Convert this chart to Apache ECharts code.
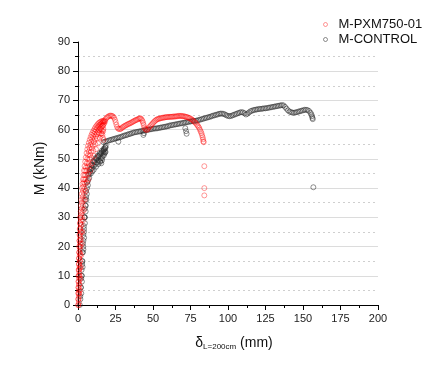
<!DOCTYPE html>
<html>
<head>
<meta charset="utf-8">
<script src="https://cdn.jsdelivr.net/npm/echarts@6/dist/echarts.min.js"></script>
<style>html,body{margin:0;padding:0;background:#fff;}#c{width:438px;height:365px;}</style>
</head>
<body>
<div id="c"></div>
<script>
var seriesNames = ['M-PXM750-01', 'M-CONTROL'];

// M-PXM750-01 : [deflection (mm), moment (kNm)]
var pxmRise = [
  [0.3,0],[0.35,2],[0.4,4],[0.45,6],[0.5,8],[0.55,10],[0.6,12],[0.7,14],[0.8,16],[0.9,18],[1.0,20],
  [1.1,22],[1.2,24],[1.35,26],[1.5,28],[1.65,30],[1.8,32],[2.0,34],[2.2,36],[2.45,38],[2.7,40],
  [3.0,41.5],[3.3,43],[3.6,44.5],[4,46],[4.4,47.5],[4.8,49],[5.2,50.5],[5.7,52],[6.2,53.3],[6.7,54.5],
  [7.2,55.5],[7.8,56.5],[8.4,57.4],[9,58.2],[9.6,58.9],[10.3,59.6],[11,60.2],[11.6,60.8],[12.3,61.3],
  [13,61.8],[13.7,62.2],[14.4,62.5],[15.1,62.7],[15.8,62.9],[16.5,63],[17,63],
  [0.6,1],[0.65,3],[0.7,5],[0.75,7],[0.8,9],[0.9,11],[1,13],[1.1,15],[1.2,17],[1.3,19],[1.4,21],
  [1.5,23],[1.65,25],[1.8,27],[2.0,29],[2.2,31],[2.45,33],[2.7,35],[3.0,37],[3.3,39],[3.6,40.5],
  [3.8,42],[4.1,43],[4.5,44.5],[4.9,46],[5.3,47],[5.8,48.5],[6.2,50],[6.7,51.3],[7.2,52.5],[7.7,53.7],
  [8.3,54.8],[8.9,55.8],[9.5,56.8],[10.1,57.7],[10.8,58.5],[11.4,59.2],[12.1,59.9],[12.8,60.5],
  [13.5,61],[14.2,61.4],[14.9,61.8],[15.6,62.1],[16.3,62.4],[16.9,62.6],[17.5,62.8],
  [0.9,4],[1.0,7],[1.1,10],[1.2,12.5],[1.35,15],[1.5,17.5],[1.7,20],[1.9,22.5],[2.15,25],[2.4,27.5],
  [2.7,30],[3,32],[3.3,34],[3.6,36],[4,38],[4.3,39.7],[4.7,41.5],[5.1,43],[5.5,44.5],[6,46],[6.5,47.3],
  [7,48.6],[7.5,50],[8.1,51.3],[8.7,52.5],[9.3,53.6],[9.9,54.7],[10.6,55.8],[11.3,56.8],[12,57.7],
  [12.7,58.5],[13.4,59.2],[14.1,59.8],[14.8,60.3],[15.5,60.8],[16.2,61.3],[16.9,61.7],[17.5,62.2],[18.1,62.8],
  [1.3,5],[1.5,9],[1.8,13],[2.1,17],[2.5,21],[2.9,25],[3.4,29],[3.9,32.5],[4.5,36],[5.2,39],[6,42],
  [6.9,45],[7.9,47.8],[9,50.4],[10.2,52.8],[11.5,55],[12.8,57],[14.1,58.8],[15.4,60.2],[16.6,61.3],
  [7,43],[8.2,46],[9.4,48.5],[10.7,51],[12,53.3],[13.3,55.3],[14.6,57.2],[15.8,58.8],[16.9,60.2],
  [0.1,0],[0.15,2],[0.2,4],[0.25,6],[0.3,8],[0.35,10],[0.45,12],[0.55,14],[0.65,16],[0.75,18],
  [0.85,20],[0.95,22],[1.05,24],[1.15,26],[1.3,28],[1.45,30],
  [16.3,58.3],[16.6,57.2],[17,56.5],[16.8,59.5],[16,59.6],[15.2,58.6]
];
var pxmPeak = [
  [17.8,63.2],[18.5,63.7],[19.2,64.1],[19.9,64.4],[20.6,64.6],[21.3,64.8],[22,64.8],[22.7,64.7],
  [23.4,64.5],[24,64.1],[24.6,63.4],[25.1,62.6],[25.6,61.7],[26.1,60.9],[26.7,60.4],[27.4,60.2],
  [28.1,60.2],[28.8,60.4],[29.5,60.7],[30.2,61.0],[30.9,61.2],[31.6,61.4],[32.3,61.6],[33,61.8],
  [33.7,62.0],[34.4,62.1],[35.1,62.3],[35.8,62.5],[36.5,62.7],[37.2,62.9],[37.9,63.1],[38.6,63.3],
  [39.3,63.4],[40,63.6],[40.7,63.8],[41.3,63.9],[41.9,63.8],[42.5,63.4],[43,62.9],[43.4,62.3],
  [43.8,61.6],[44.2,60.8],[44.7,60.3],[45.3,60.0],[46,59.9],[46.7,60.3],[47.4,60.8],[48.1,61.2],
  [48.8,61.6],[49.5,62.0],[50.2,62.4],[50.9,62.8],[51.6,63.1],[52.3,63.4],[53,63.6],[53.7,63.7],
  [54.4,63.8],[55.1,63.9],[55.8,64.0],[56.5,64.1],[57.2,64.1],[57.9,64.2],[58.6,64.3],[59.3,64.3],
  [60,64.3],[60.7,64.4],[61.4,64.4],[62.1,64.4],[62.8,64.4],[63.5,64.5],[64.2,64.5],[64.9,64.5],
  [65.6,64.6],[66.3,64.6],[67,64.7],[67.7,64.7],[68.4,64.7],[69.1,64.7],[69.8,64.6],[70.5,64.6],
  [71.2,64.5],[71.9,64.4],[72.6,64.3],[73.3,64.2],[74,64.0],[74.7,63.9],[75.4,63.6],[76.1,63.4],
  [76.8,63.1],[77.5,62.7],[78.2,62.4],[78.9,62.0],[79.6,61.5],[80.2,61.1],[80.8,60.6],[81.3,60.0],
  [81.8,59.4],[82.3,58.8],[82.7,58.1],[83.1,57.4],[83.4,56.7],[83.6,56.0],[83.8,55.7],
  [84.2,47.5],[84.2,40],[84.2,37.5]
];

// M-CONTROL : [deflection (mm), moment (kNm)]
var controlRise = [
  [1.2,0],[1.5,3],[1.8,6],[2.1,9],[2.4,12],[2.7,15],[3,18],[3.3,21],[3.6,24],[3.9,27],[4.2,30],
  [4.5,33],[4.9,36],[5.4,39],[6,42],[6.8,44.5],[7.8,46.5],[9,48],[10.3,49.2],[11.7,50.2],[13.1,51.1],
  [14.5,52],[15.9,52.8],[17.2,53.5],[18.2,54],
  [1.6,2],[2,6],[2.4,10],[2.8,14],[3.2,18],[3.6,22],[4,26],[4.4,30],[4.9,34],[5.4,37],[6,40],
  [6.7,42.5],[7.6,44.8],[8.6,46.5],[9.7,47.8],[10.9,48.9],[12.2,49.9],[13.5,50.8],[14.8,51.6],
  [16.1,52.4],[17.3,53.1],[18.3,53.8],
  [2.5,10],[3,15],[3.5,20],[4,25],[4.6,30],[5.2,34],[5.9,38],[6.6,41],[7.5,43.5],[8.6,45],
  [9.6,45.8],[10.5,46.3],[12,47.3],[13.5,48.2],[14.8,49.2],[16,50.2],[17.2,51.2],[18.3,52.5],[18.5,54.4],
  [8,45.5],[9.2,46.8],[10.5,47.5],[11.5,48.2],[12.8,48.8],[13.8,49.5],[15.2,50.2],[16.4,51],[17.5,51.8],
  [18.2,52.2],[11,49.5],[12.5,50.4],[14,51],[15.5,51.9],[17,52.8],[5.6,36],[5.1,32],[4.6,28],[4.1,23],
  [3.6,19],[3.1,13],[2.6,8],[2.2,4],
  [14.8,49],[15.5,48.5],[16,49.5],[17,52.2],[17.8,53.4]
];
var controlMain = [
  [17,55.7],[18,55.9],[19,56.0],[20,56.2],[21,56.4],[22,56.5],[23,56.7],[24,56.8],[25,57.0],[26,57.1],
  [27,57.3],[28,57.4],[29,57.6],[30,57.8],[31,58.0],[32,58.1],[33,58.3],[34,58.5],[35,58.6],[36,58.8],
  [37,59.0],[38,59.1],[39,59.2],[40,59.3],[41,59.4],[42,59.5],[43,59.6],[44,59.7],[45,59.8],[46,59.9],
  [47,60.0],[48,60.1],[49,60.2],[50,60.3],[51,60.4],[52,60.4],[53,60.5],[54,60.6],[55,60.7],[56,60.8],
  [57,60.9],[58,61.0],[59,61.1],[60,61.2],[61,61.4],[62,61.5],[63,61.6],[64,61.7],[65,61.8],[66,61.9],
  [67,62.0],[68,62.1],[69,62.2],[70,62.3],[71,62.4],[72,62.5],[73,62.6],[74,62.7],[75,62.8],[76,62.9],
  [77,63.0],[78,63.0],[79,63.1],[80,63.2],[81,63.4],[82,63.5],[83,63.7],[84,63.8],[85,64.0],[86,64.1],
  [87,64.3],[88,64.4],[89,64.6],[90,64.8],[91,64.9],[92,65.1],[93,65.2],[94,65.4],[95,65.5],[96,65.5],
  [97,65.4],[98,65.2],[99,64.9],[100,64.7],[101,64.6],[102,64.7],[103,64.9],[104,65.1],[105,65.3],
  [106,65.5],[107,65.7],[108,65.9],[109,66.0],[110,65.9],[111,65.6],[112,65.2],[113,65.5],[114,65.9],
  [115,66.3],[116,66.5],[117,66.7],[118,66.8],[119,66.9],[120,67.0],[121,67.1],[122,67.1],[123,67.2],
  [124,67.3],[125,67.3],[126,67.4],[127,67.5],[128,67.6],[129,67.7],[130,67.8],[131,67.9],[132,68.0],
  [133,68.1],[134,68.2],[135,68.3],[136,68.4],[137,68.3],[138,67.8],[139,67.2],[140,66.6],[141,66.2],
  [142,66.0],[143,65.8],[144,65.8],[145,65.9],[146,66.0],[147,66.2],[148,66.3],[149,66.5],[150,66.6],
  [151,66.8],[152,66.8],[153,66.7],[154,66.4],[155,65.8],[155.6,65.2],[156,64.6],[156.3,64.0],
  [156.5,63.6],[156.9,40.3],
  [26.9,55.9],[43.6,58.2],[44,58.8],[71.5,60.5],[72,59.5],[72.4,58.6]
];

var pxmPoints = pxmRise.concat(pxmPeak);
var controlPoints = controlRise.concat(controlMain);

var FONT = '"Liberation Sans", Arial, sans-serif';
var chart = echarts.init(document.getElementById('c'));
var majorGrid = ['#dcdcdc','#dcdcdc','#dcdcdc','#dcdcdc','#dcdcdc','#dcdcdc','#dcdcdc','#dcdcdc','#dcdcdc','rgba(0,0,0,0)'];
chart.setOption({
  animation: false,
  backgroundColor: '#fff',
  grid: { left: 78, right: 60, top: 42, bottom: 60, containLabel: false },
  legend: {
    orient: 'vertical', left: 318, top: 13, itemGap: 2,
    itemWidth: 16, itemHeight: 4,
    data: seriesNames,
    itemStyle: { borderWidth: 1 },
    textStyle: { fontFamily: FONT, fontSize: 13, color: '#111' }
  },
  xAxis: {
    type: 'value', min: 0, max: 200, interval: 25,
    name: '{d|δ}{s|L=200cm}{m| (mm)}',
    nameLocation: 'middle', nameGap: 30,
    nameTextStyle: {
      padding: [0, 0, 0, 12],
      rich: {
        d: { fontFamily: FONT, fontSize: 14, color: '#111', verticalAlign: 'middle' },
        s: { fontFamily: FONT, fontSize: 8, color: '#111', verticalAlign: 'bottom', padding: [8, 0, 0, 0] },
        m: { fontFamily: FONT, fontSize: 14, color: '#111', verticalAlign: 'middle' }
      }
    },
    axisLine: { show: true, lineStyle: { color: '#000', width: 1 } },
    axisTick: { show: true, length: 5, lineStyle: { color: '#000' } },
    minorTick: { show: true, splitNumber: 2, length: 3, lineStyle: { color: '#000' } },
    axisLabel: { fontFamily: FONT, fontSize: 11, color: '#222', margin: 8 },
    splitLine: { show: false }
  },
  yAxis: {
    type: 'value', min: 0, max: 90, interval: 10,
    name: 'M (kNm)', nameLocation: 'middle', nameGap: 26, nameRotate: 90,
    nameTextStyle: { fontFamily: FONT, fontSize: 14, color: '#111', padding: [0, 0, 0, 10] },
    axisLine: { show: true, lineStyle: { color: '#000', width: 1 } },
    axisTick: { show: true, length: 5, lineStyle: { color: '#000' } },
    minorTick: { show: true, splitNumber: 2, length: 3, lineStyle: { color: '#000' } },
    axisLabel: { fontFamily: FONT, fontSize: 11, color: '#222', margin: 8 },
    splitLine: { show: true, lineStyle: { color: majorGrid, width: 1 } },
    minorSplitLine: { show: true, lineStyle: { color: '#cfcfcf', type: [2, 3], width: 1 } }
  },
  series: [
    {
      name: seriesNames[1], type: 'scatter', data: controlPoints,
      symbol: 'circle', symbolSize: 5,
      itemStyle: { color: 'rgba(0,0,0,0)', borderColor: 'rgba(40,40,40,0.65)', borderWidth: 1 },
      z: 2
    },
    {
      name: seriesNames[0], type: 'scatter', data: pxmPoints,
      symbol: 'circle', symbolSize: 5,
      itemStyle: { color: 'rgba(0,0,0,0)', borderColor: 'rgba(255,0,0,0.5)', borderWidth: 1 },
      z: 3
    }
  ]
});
</script>
</body>
</html>
